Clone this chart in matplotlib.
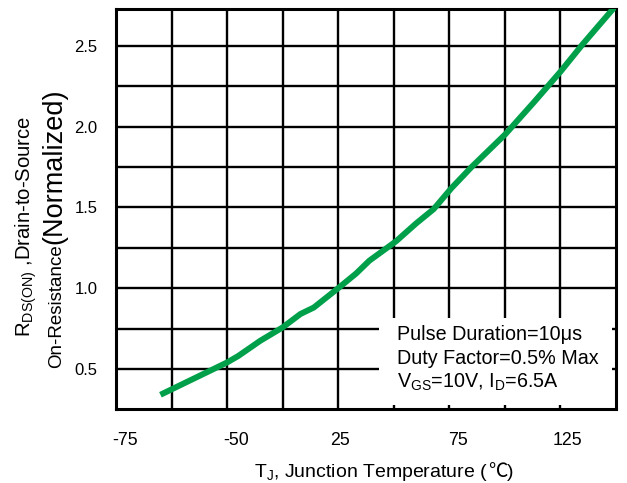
import matplotlib
matplotlib.use("Agg")
import matplotlib.pyplot as plt
from matplotlib.patches import Rectangle

plt.rcParams['font.family'] = ['Liberation Sans', 'DejaVu Sans']
plt.rcParams['mathtext.fontset'] = 'custom'
plt.rcParams['mathtext.rm'] = 'Liberation Sans'
plt.rcParams['mathtext.it'] = 'Liberation Sans:italic'

# normalized Rds(on) vs junction temperature
temp_c = [-55, -43, -25, -20, -10, 0, 8, 14, 25, 33, 39, 51, 60, 68,
          76, 85, 100, 113, 125, 135, 150]
r_norm = [0.34, 0.42, 0.54, 0.58, 0.675, 0.757, 0.84, 0.88, 1.0, 1.09,
          1.17, 1.29, 1.40, 1.49, 1.62, 1.75, 1.95, 2.15, 2.34, 2.51, 2.75]

# printed temperature labels (they sit off the grid on the sheet)
xlabel_pos = [-71, -21, 26, 79, 128]
xlabel_txt = ["-75", "-50", "25", "75", "125"]
xgrid = [-50, -25, 0, 25, 50, 75, 100, 125]

ytick_pos = [0.5, 1.0, 1.5, 2.0, 2.5]
ytick_txt = ["0.5", "1.0", "1.5", "2.0", "2.5"]
ygrid_minor = [0.75, 1.25, 1.75, 2.25]

note_lines = ["Pulse Duration=10\u03bcs",
              "Duty Factor=0.5% Max",
              "V$_{\\mathrm{GS}}$=10V, I$_{\\mathrm{D}}$=6.5A"]

W, H = 627, 483
fig = plt.figure(figsize=(W / 100, H / 100), dpi=100)
ax = fig.add_axes([116 / W, 1 - 409.3 / H, 500 / W, 400.6 / H])

ax.plot(temp_c, r_norm, color='#00a04a', lw=4.3, solid_capstyle='butt',
        zorder=4)
ax.set_xlim(-75, 150)
ax.set_ylim(0.25, 2.73)

ax.set_xticks(xlabel_pos)
ax.set_xticklabels(xlabel_txt)
ax.set_xticks(xgrid, minor=True)
ax.set_yticks(ytick_pos)
ax.set_yticklabels(ytick_txt)
ax.set_yticks(ygrid_minor, minor=True)
ax.tick_params(axis='both', which='both', length=0)
ax.tick_params(axis='y', labelsize=12, pad=13.5)
ax.tick_params(axis='x', labelsize=12.8, pad=16)

ax.grid(True, axis='x', which='minor', color='black', lw=1.7)
ax.grid(True, axis='y', which='both', color='black', lw=1.7)
for sp in ax.spines.values():
    sp.set_linewidth(2.2)

# white panel for the test conditions
ax.add_patch(Rectangle((0.526, 0.011), 0.466, 0.217, transform=ax.transAxes,
                       facecolor='white', edgecolor='none', zorder=3))
for i, line in enumerate(note_lines):
    ax.text(0.562, 0.1855 - i * 0.0585, line, transform=ax.transAxes,
            fontsize=14.2, ha='left', va='center', zorder=5)

fig.canvas.draw()
rend = fig.canvas.get_renderer()


def run_after(prev, text, **kw):
    # continue a line of text right where the previous piece ends
    bb = prev.get_window_extent(rend)
    x, y = prev.get_position()
    return fig.text(bb.x1 / W, y, text, ha='left', va='baseline', **kw)


# x axis title, built in pieces so the degree sign can use a CJK face
t = fig.text(254 / W, 1 - 477 / H, "T$_{\\mathrm{J}}$, Junction Temperature (",
             fontsize=14, ha='left', va='baseline')
t = run_after(t, "\u2103", fontsize=14,
              family=['Noto Sans CJK SC', 'DejaVu Sans'])
run_after(t, ")", fontsize=14)

# y axis title, two rotated lines
fig.text(31 / W, 1 - 337 / H, "R$_{\\mathrm{DS(ON)}}$ ,Drain-to-Source",
         fontsize=14.6, rotation=90, rotation_mode='anchor',
         ha='left', va='baseline')
t_on = fig.text(61 / W, 1 - 368 / H, "On-Resistance", fontsize=13.5,
                rotation=90, rotation_mode='anchor', ha='left', va='baseline')
bb = t_on.get_window_extent(rend)
fig.text(61 / W, bb.y1 / H, "(Normalized)", fontsize=19.5, rotation=90,
         rotation_mode='anchor', ha='left', va='baseline')

fig.savefig("out.png", dpi=100)
